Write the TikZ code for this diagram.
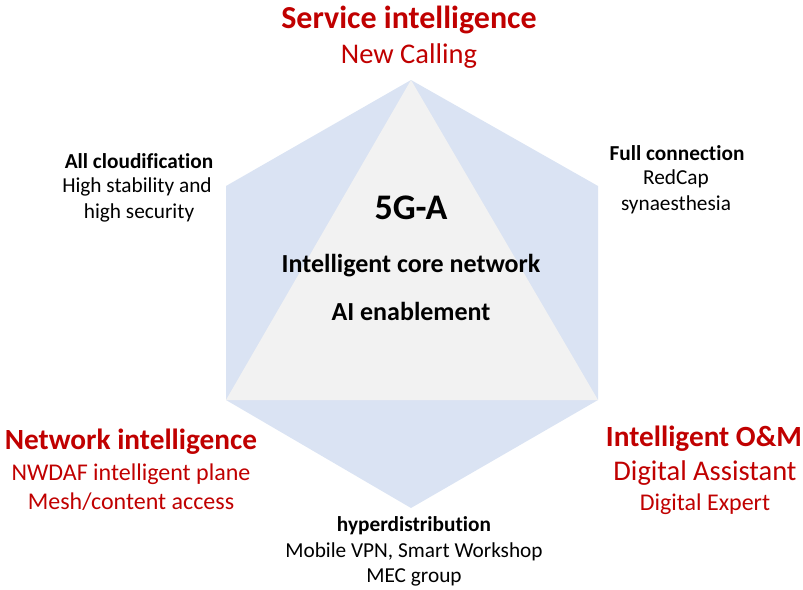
\documentclass[tikz,border=0pt]{standalone}
\usepackage{fontspec}
\setmainfont{Carlito}[Ligatures=NoCommon]
\definecolor{hexblue}{HTML}{DAE3F3}
\definecolor{coregray}{HTML}{F2F2F2}
\definecolor{darkred}{HTML}{C00000}
\tikzset{
  bighead/.style={font=\fontsize{29.3}{34}\selectfont\bfseries, text=darkred, inner sep=0pt},
  bigsub/.style={font=\fontsize{28.5}{33}\selectfont, text=darkred, inner sep=0pt},
  smallsub/.style={font=\fontsize{24}{28}\selectfont, text=darkred, inner sep=0pt},
  sidehead/.style={font=\fontsize{21.3}{25}\selectfont\bfseries, inner sep=0pt},
  sidetext/.style={font=\fontsize{21.3}{25}\selectfont, inner sep=0pt},
  corehead/.style={font=\fontsize{26}{30}\selectfont\bfseries, inner sep=0pt}
}
\begin{document}
\begin{tikzpicture}[x=1pt, y=-1pt]
    \useasboundingbox (0,0) rectangle (803,589);
    % hexagon and inner triangle
    \coordinate (top) at (411,80);
    \coordinate (ur) at (598,186);
    \coordinate (lr) at (598,400);
    \coordinate (bot) at (411,508);
    \coordinate (ll) at (226,400);
    \coordinate (ul) at (226,186);
    \fill[hexblue] (top)--(ur)--(lr)--(bot)--(ll)--(ul)--cycle;
    \fill[coregray] (top)--(lr)--(ll)--cycle;

    % centre
    \node[font=\fontsize{36}{40}\selectfont\bfseries, inner sep=0pt] (fivega) at (411,208) {5G-A};
    \node[corehead] (corenet) at (411,266) {Intelligent core network};
    \node[corehead] (aiena) at (411,311) {AI enablement};

    % top
    \node[bighead, font=\fontsize{32}{36}\selectfont\bfseries] (service) at (409,20) {Service intelligence};
    \node[bigsub] (calling) at (409,56) {New Calling};

    % upper left
    \node[sidehead] (cloud) at (139,161) {All cloudification};
    \node[sidetext] (stab) at (137,187) {High stability and};
    \node[sidetext] (secu) at (139,213) {high security};

    % upper right
    \node[sidehead] (fullcon) at (677,153) {Full connection};
    \node[sidetext] (redcap) at (676,179) {RedCap};
    \node[sidetext] (synae) at (676,205) {synaesthesia};

    % lower left
    \node[bighead] (netint) at (131,442) {Network intelligence};
    \node[smallsub] (nwdaf) at (131,474) {NWDAF intelligent plane};
    \node[smallsub] (mesh) at (131,502) {Mesh/content access};

    % lower right
    \node[bighead] (om) at (704,439) {Intelligent O\&M};
    \node[bigsub] (assist) at (705,473) {Digital Assistant};
    \node[smallsub] (expert) at (705,504) {Digital Expert};

    % bottom
    \node[sidehead] (hyper) at (414,526) {hyperdistribution};
    \node[sidetext] (vpn) at (414,552) {Mobile VPN, Smart Workshop};
    \node[sidetext] (mec) at (414,577) {MEC group};
\end{tikzpicture}
\end{document}
